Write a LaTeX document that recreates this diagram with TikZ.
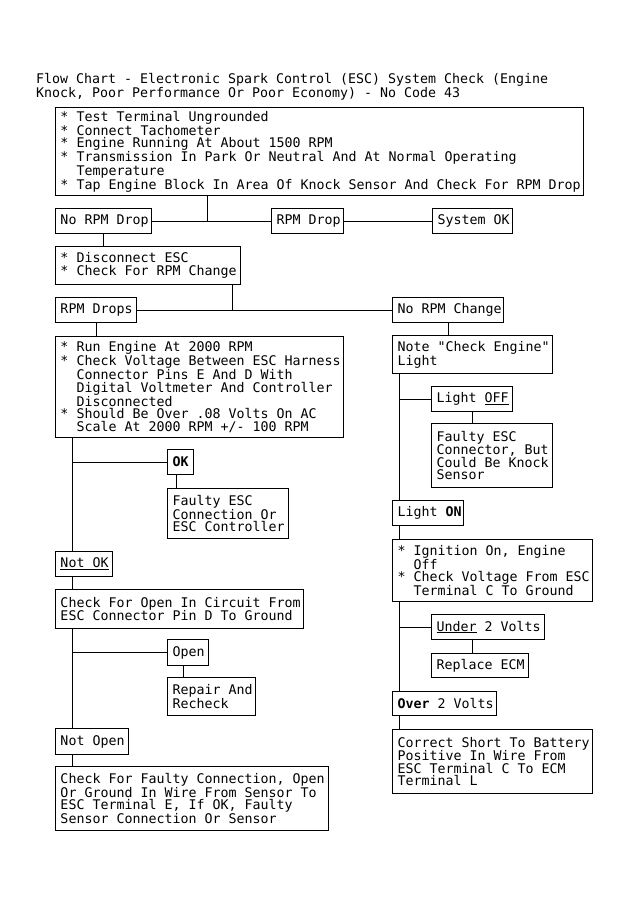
\documentclass[tikz,border=0pt]{standalone}
\usepackage{fontspec}
\setmonofont{DejaVu Sans Mono}
\newcommand\fsz{\ttfamily\fontsize{13.29}{12.5}\selectfont}
\newcommand\tsz{\ttfamily\fontsize{13.29}{11.5}\selectfont}
\newcommand\ind{\hspace*{16pt}}
\newcommand\bul{{*}}
\tikzset{
  bx/.style n args={2}{draw, line width=1pt, inner sep=0pt, anchor=north west,
    minimum width=#1, minimum height=#2, text width=#1, font=\fsz,
    execute at begin node={\leftskip=5pt\rightskip=0pt plus 1fil\relax\spaceskip=0pt\relax\xspaceskip=0pt\relax\parindent=0pt\relax\parfillskip=0pt plus 1fil\relax}},
  ln/.style={line width=1pt}
}
\begin{document}
\begin{tikzpicture}[x=1pt,y=-1pt]
\useasboundingbox[fill=white] (0,0) rectangle (630,906);
\node[anchor=base west, inner sep=0pt, align=left, font=\tsz] (title) at (36,97)
  {Flow Chart - Electronic Spark Control (ESC) System Check (Engine\\Knock, Poor Performance Or Poor Economy) - No Code 43};
\node[bx={528pt}{88pt}] (main) at (55,107) {\bul{} Test Terminal Ungrounded\\\bul{} Connect Tachometer\\\bul{} Engine Running At About 1500 RPM\\\bul{} Transmission In Park Or Neutral And At Normal Operating\\\ind Temperature\\\bul{} Tap Engine Block In Area Of Knock Sensor And Check For RPM Drop};
\node[bx={96pt}{25pt}] (nrd) at (55,208) {No RPM Drop};
\node[bx={72pt}{25pt}] (rd) at (271,208) {RPM Drop};
\node[bx={80pt}{25pt}] (sok) at (432,208) {System OK};
\node[bx={185pt}{38pt}] (disc) at (55,246) {\bul{} Disconnect ESC\\\bul{} Check For RPM Change};
\node[bx={81pt}{25pt}] (rdrops) at (55,297) {RPM Drops};
\node[bx={111pt}{25pt}] (nrc) at (392,297) {No RPM Change};
\node[bx={288pt}{101pt}] (run) at (55,336) {\bul{} Run Engine At 2000 RPM\\\bul{} Check Voltage Between ESC Harness\\\ind Connector Pins E And D With\\\ind Digital Voltmeter And Controller\\\ind Disconnected\\\bul{} Should Be Over .08 Volts On AC\\\ind Scale At 2000 RPM +/- 100 RPM};
\node[bx={160pt}{38pt}] (note) at (392,335) {Note "Check Engine"\\Light};
\node[bx={81pt}{25pt}] (loff) at (431,386) {Light \underline{OFF}};
\node[bx={121pt}{64pt}] (fa1) at (431,423) {Faulty ESC\\Connector, But\\Could Be Knock\\Sensor};
\node[bx={71pt}{25pt}] (lon) at (392,500) {Light \textbf{ON}};
\node[bx={200pt}{62pt}] (ign) at (392,539) {\bul{} Ignition On, Engine\\\ind Off\\\bul{} Check Voltage From ESC\\\ind Terminal C To Ground};
\node[bx={113pt}{25pt}] (under) at (431,614) {\underline{Under} 2 Volts};
\node[bx={97pt}{24pt}] (repl) at (431,653) {Replace ECM};
\node[bx={104pt}{24pt}] (over) at (392,691) {\textbf{Over} 2 Volts};
\node[bx={200pt}{64pt}] (corr) at (392,729) {Correct Short To Battery\\Positive In Wire From\\ESC Terminal C To ECM\\Terminal L};
\node[bx={26pt}{25pt}] (ok) at (167,449) {\textbf{OK}};
\node[bx={121pt}{50pt}] (fconn) at (167,488) {Faulty ESC\\Connection Or\\ESC Controller};
\node[bx={57pt}{25pt}] (notok) at (55,551) {\underline{Not OK}};
\node[bx={248pt}{39pt}] (chkopen) at (55,589) {Check For Open In Circuit From\\ESC Connector Pin D To Ground};
\node[bx={41pt}{26pt}] (open) at (167,639) {Open};
\node[bx={88pt}{38pt}] (repair) at (167,677) {Repair And\\Recheck};
\node[bx={73pt}{26pt}] (notopen) at (55,728) {Not Open};
\node[bx={273pt}{64pt}] (chkf) at (55,766) {Check For Faulty Connection, Open\\Or Ground In Wire From Sensor To\\ESC Terminal E, If OK, Faulty\\Sensor Connection Or Sensor};
% connectors
\coordinate (jA) at (207,220.5);
\draw[ln] (main.south -| jA) -- (jA);
\draw[ln] (nrd.east) -- (rd.west);
\draw[ln] (rd.east) -- (sok.west);
\draw[ln] (nrd.south) -- (disc.north -| nrd.south);
\coordinate (jB) at (232,309.5);
\draw[ln] (disc.south -| jB) -- (jB);
\draw[ln] (rdrops.east) -- (nrc.west);
\draw[ln] (rdrops.south) -- (run.north -| rdrops.south);
\draw[ln] (nrc.south) -- (note.north -| nrc.south);
\coordinate (tR) at (399,0);
\coordinate (tR2) at (472,0);
\draw[ln] (note.south -| tR) -- (lon.north -| tR);
\draw[ln] (tR |- loff.west) -- (loff.west);
\draw[ln] (loff.south -| tR2) -- (fa1.north -| tR2);
\draw[ln] (lon.south -| tR) -- (ign.north -| tR);
\draw[ln] (ign.south -| tR) -- (over.north -| tR);
\draw[ln] (tR |- under.west) -- (under.west);
\draw[ln] (under.south -| tR2) -- (repl.north -| tR2);
\draw[ln] (over.south -| tR) -- (corr.north -| tR);
\coordinate (tL) at (72,0);
\coordinate (tOK) at (176,0);
\coordinate (tOp) at (183,0);
\draw[ln] (run.south -| tL) -- (notok.north -| tL);
\draw[ln] (tL |- ok.west) -- (ok.west);
\draw[ln] (ok.south -| tOK) -- (fconn.north -| tOK);
\draw[ln] (notok.south -| tL) -- (chkopen.north -| tL);
\draw[ln] (chkopen.south -| tL) -- (notopen.north -| tL);
\draw[ln] (tL |- open.west) -- (open.west);
\draw[ln] (open.south -| tOp) -- (repair.north -| tOp);
\draw[ln] (notopen.south -| tL) -- (chkf.north -| tL);
\end{tikzpicture}
\end{document}
